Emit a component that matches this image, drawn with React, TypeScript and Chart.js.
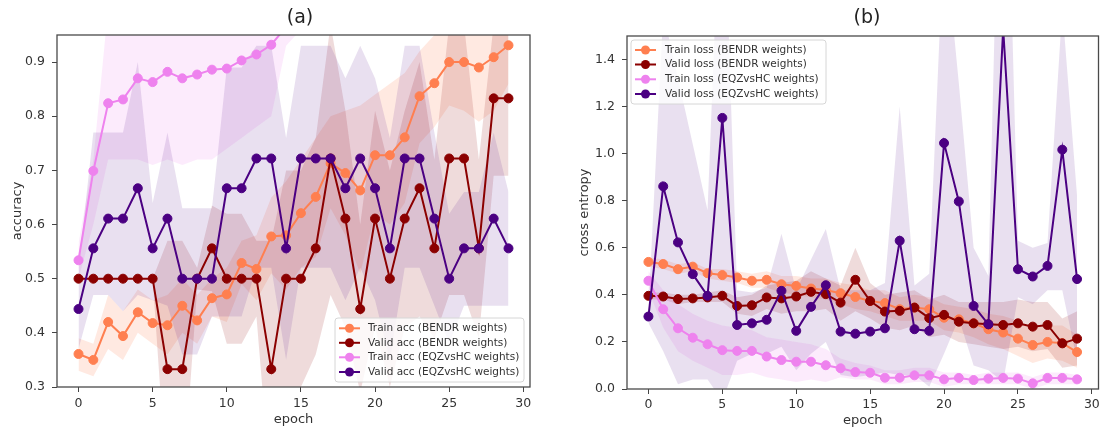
import React, { useEffect, useRef } from "react";
import { Chart, registerables } from "chart.js";

Chart.register(...registerables);

const FONT = "'DejaVu Sans', 'Liberation Sans', sans-serif";

// ---------- data ----------
const epochs = [0, 1, 2, 3, 4, 5, 6, 7, 8, 9, 10, 11, 12, 13, 14, 15, 16, 17, 18, 19, 20, 21, 22, 23, 24, 25, 26, 27, 28, 29];
const xTicks = [0, 5, 10, 15, 20, 25, 30];
const accTicks = [0.3, 0.4, 0.5, 0.6, 0.7, 0.8, 0.9];
const lossTicks = [0.0, 0.2, 0.4, 0.6, 0.8, 1.0, 1.2, 1.4];

const accLabels = [
  "Train acc (BENDR weights)",
  "Valid acc (BENDR weights)",
  "Train acc (EQZvsHC weights)",
  "Valid acc (EQZvsHC weights)",
];
const lossLabels = [
  "Train loss (BENDR weights)",
  "Valid loss (BENDR weights)",
  "Train loss (EQZvsHC weights)",
  "Valid loss (EQZvsHC weights)",
];

// (a) accuracy
const trainAccB = [0.361, 0.35, 0.42, 0.394, 0.438, 0.418, 0.414, 0.45, 0.423, 0.464, 0.471, 0.529, 0.518, 0.578, 0.58, 0.621, 0.651, 0.713, 0.695, 0.663, 0.728, 0.728, 0.761, 0.837, 0.861, 0.9, 0.9, 0.89, 0.909, 0.931];
const trainAccBHi = [0.39, 0.38, 0.47, 0.44, 0.48, 0.46, 0.47, 0.5, 0.47, 0.5, 0.52, 0.57, 0.58, 0.65, 0.68, 0.72, 0.76, 0.8, 0.81, 0.82, 0.84, 0.86, 0.88, 0.92, 0.95, 0.98, 0.99, 0.99, 1.0, 1.0];
const trainAccBLo = [0.33, 0.32, 0.37, 0.35, 0.4, 0.38, 0.36, 0.4, 0.38, 0.43, 0.42, 0.49, 0.46, 0.51, 0.48, 0.52, 0.54, 0.63, 0.58, 0.51, 0.62, 0.6, 0.64, 0.75, 0.78, 0.82, 0.81, 0.79, 0.81, 0.86];

const validAccB = [0.5, 0.5, 0.5, 0.5, 0.5, 0.5, 0.333, 0.333, 0.5, 0.556, 0.5, 0.5, 0.5, 0.333, 0.5, 0.5, 0.556, 0.722, 0.611, 0.444, 0.611, 0.5, 0.611, 0.667, 0.556, 0.722, 0.722, 0.556, 0.833, 0.833];
const validAccBHi = [0.5, 0.5, 0.5, 0.5, 0.5, 0.5, 0.57, 0.57, 0.52, 0.635, 0.62, 0.62, 0.57, 0.57, 0.7, 0.7, 0.76, 0.97, 0.81, 0.6, 0.81, 0.7, 0.81, 0.9, 0.72, 0.97, 0.97, 0.72, 0.97, 0.97];
const validAccBLo = [0.5, 0.5, 0.5, 0.5, 0.5, 0.5, 0.1, 0.1, 0.48, 0.477, 0.38, 0.38, 0.43, 0.1, 0.3, 0.3, 0.36, 0.47, 0.41, 0.29, 0.41, 0.3, 0.41, 0.43, 0.39, 0.47, 0.47, 0.39, 0.69, 0.69];

const trainAccE = [0.534, 0.699, 0.824, 0.831, 0.87, 0.863, 0.882, 0.87, 0.877, 0.886, 0.888, 0.903, 0.914, 0.932, 0.965, 0.975, 0.98, 0.985, 0.985, 0.99, 0.99, 0.99, 0.995, 0.995, 1.0, 1.0, 1.0, 1.0, 1.0, 1.0];
const trainAccEHi = [0.565, 0.72, 1.0, 1.02, 1.02, 1.02, 1.02, 1.02, 1.02, 1.02, 1.02, 1.02, 1.02, 1.02, 1.02, 1.02, 1.02, 1.02, 1.02, 1.02, 1.02, 1.02, 1.02, 1.02, 1.02, 1.02, 1.02, 1.02, 1.02, 1.02];
const trainAccELo = [0.5, 0.6, 0.72, 0.72, 0.72, 0.71, 0.72, 0.71, 0.72, 0.72, 0.74, 0.76, 0.78, 0.8, 0.93, 0.96, 0.96, 0.97, 0.97, 0.97, 0.97, 0.97, 0.98, 0.98, 0.98, 0.98, 0.98, 0.98, 0.98, 0.98];

const validAccE = [0.444, 0.556, 0.611, 0.611, 0.667, 0.556, 0.611, 0.5, 0.5, 0.5, 0.667, 0.667, 0.722, 0.722, 0.556, 0.722, 0.722, 0.722, 0.667, 0.722, 0.667, 0.556, 0.722, 0.722, 0.611, 0.5, 0.556, 0.556, 0.611, 0.556];
const validAccEHi = [0.52, 0.77, 0.77, 0.77, 0.9, 0.64, 0.77, 0.63, 0.63, 0.63, 0.89, 0.89, 0.93, 0.93, 0.76, 0.93, 0.93, 0.93, 0.87, 0.93, 0.87, 0.76, 0.93, 0.93, 0.77, 0.62, 0.66, 0.66, 0.77, 0.66];
const validAccELo = [0.37, 0.47, 0.47, 0.44, 0.47, 0.46, 0.45, 0.36, 0.36, 0.43, 0.43, 0.43, 0.52, 0.52, 0.35, 0.52, 0.52, 0.52, 0.46, 0.52, 0.46, 0.35, 0.52, 0.52, 0.45, 0.38, 0.45, 0.45, 0.45, 0.45];

// (b) cross entropy
const trainLossB = [0.54, 0.531, 0.509, 0.52, 0.492, 0.484, 0.474, 0.46, 0.464, 0.445, 0.438, 0.427, 0.421, 0.407, 0.391, 0.374, 0.365, 0.339, 0.346, 0.339, 0.303, 0.296, 0.279, 0.254, 0.24, 0.214, 0.187, 0.2, 0.195, 0.157];
const trainLossBHi = [0.56, 0.55, 0.53, 0.54, 0.51, 0.51, 0.5, 0.49, 0.5, 0.48, 0.48, 0.47, 0.47, 0.45, 0.44, 0.42, 0.42, 0.39, 0.4, 0.39, 0.36, 0.35, 0.34, 0.32, 0.31, 0.29, 0.26, 0.27, 0.27, 0.23];
const trainLossBLo = [0.52, 0.51, 0.49, 0.5, 0.47, 0.46, 0.45, 0.43, 0.43, 0.41, 0.4, 0.39, 0.38, 0.36, 0.34, 0.33, 0.31, 0.29, 0.29, 0.29, 0.25, 0.24, 0.22, 0.19, 0.17, 0.14, 0.11, 0.13, 0.12, 0.09];

const validLossB = [0.396, 0.393, 0.382, 0.385, 0.389, 0.396, 0.353, 0.356, 0.389, 0.385, 0.393, 0.413, 0.403, 0.367, 0.464, 0.374, 0.329, 0.332, 0.346, 0.301, 0.315, 0.286, 0.279, 0.275, 0.272, 0.279, 0.265, 0.272, 0.194, 0.214];
const validLossBHi = [0.41, 0.41, 0.4, 0.4, 0.41, 0.42, 0.39, 0.4, 0.44, 0.45, 0.46, 0.5, 0.47, 0.44, 0.6, 0.45, 0.4, 0.41, 0.42, 0.38, 0.4, 0.37, 0.37, 0.37, 0.37, 0.38, 0.37, 0.37, 0.3, 0.33];
const validLossBLo = [0.38, 0.38, 0.36, 0.37, 0.37, 0.37, 0.32, 0.31, 0.34, 0.32, 0.33, 0.33, 0.34, 0.29, 0.33, 0.3, 0.26, 0.25, 0.27, 0.22, 0.23, 0.2, 0.19, 0.18, 0.17, 0.18, 0.16, 0.17, 0.09, 0.1];

const trainLossE = [0.46, 0.339, 0.258, 0.218, 0.19, 0.165, 0.162, 0.162, 0.138, 0.123, 0.116, 0.116, 0.101, 0.088, 0.072, 0.069, 0.048, 0.048, 0.058, 0.058, 0.041, 0.047, 0.038, 0.044, 0.047, 0.044, 0.024, 0.047, 0.047, 0.041];
const trainLossEHi = [0.5, 0.42, 0.36, 0.32, 0.29, 0.27, 0.26, 0.25, 0.22, 0.21, 0.2, 0.19, 0.17, 0.13, 0.11, 0.1, 0.08, 0.08, 0.09, 0.09, 0.07, 0.07, 0.06, 0.07, 0.07, 0.07, 0.05, 0.07, 0.07, 0.06];
const trainLossELo = [0.42, 0.26, 0.16, 0.12, 0.09, 0.06, 0.06, 0.07, 0.05, 0.04, 0.03, 0.04, 0.03, 0.05, 0.04, 0.04, 0.02, 0.02, 0.03, 0.03, 0.01, 0.02, 0.02, 0.02, 0.02, 0.02, 0.0, 0.02, 0.02, 0.02];

const validLossE = [0.308, 0.861, 0.623, 0.488, 0.396, 1.152, 0.272, 0.279, 0.294, 0.417, 0.247, 0.349, 0.441, 0.244, 0.235, 0.244, 0.258, 0.63, 0.254, 0.247, 1.045, 0.797, 0.353, 0.275, 1.53, 0.509, 0.478, 0.523, 1.017, 0.467];
const validLossEHi = [0.34, 1.6, 1.32, 1.04, 0.76, 2.35, 0.42, 0.41, 0.43, 0.66, 0.42, 0.55, 0.68, 0.42, 0.42, 0.42, 0.45, 1.2, 0.44, 0.49, 1.95, 1.3, 0.6, 0.48, 3.0, 0.63, 0.6, 0.62, 1.62, 0.82];
const validLossELo = [0.28, 0.16, 0.02, 0.04, 0.04, -0.05, 0.12, 0.15, 0.15, 0.18, 0.08, 0.15, 0.2, 0.06, 0.05, 0.06, 0.07, 0.06, 0.06, 0.01, 0.15, 0.3, 0.1, 0.08, 0.03, 0.39, 0.36, 0.42, 0.42, 0.12];

// ---------- styling ----------
const lineColors = ["#FF7F50", "#8B0000", "#EE82EE", "#4B0082"];
const bandColors = [
  "rgba(255,127,80,0.17)",
  "rgba(139,0,0,0.14)",
  "rgba(238,130,238,0.16)",
  "rgba(75,0,130,0.12)",
];

type Series = { label: string; mean: number[]; hi: number[]; lo: number[] };
type PanelDef = {
  title: string;
  titleX: number;
  yLabel: string;
  yMin: number;
  yMax: number;
  yTicks: number[];
  yWidth: number;
  xHeight: number;
  padRight: number;
  padTop: number;
  yTitlePad: number;
  xTitlePad: number;
  xTickPad: number;
  series: Series[];
  legend: { x: number; y: number; w: number; h: number; rows: number[]; h0: number; h1: number; tx: number };
};

const pts = (vals: number[]) => vals.map((v, i) => ({ x: epochs[i], y: v }));

const panelA: PanelDef = {
  title: "(a)",
  titleX: 300,
  yLabel: "accuracy",
  yMin: 0.3,
  yMax: 0.95,
  yTicks: accTicks,
  yWidth: 57,
  xHeight: 45,
  padRight: 22,
  padTop: 35,
  yTitlePad: 10,
  xTitlePad: 4.7,
  xTickPad: 4,
  series: [
    { label: accLabels[0], mean: trainAccB, hi: trainAccBHi, lo: trainAccBLo },
    { label: accLabels[1], mean: validAccB, hi: validAccBHi, lo: validAccBLo },
    { label: accLabels[2], mean: trainAccE, hi: trainAccEHi, lo: trainAccELo },
    { label: accLabels[3], mean: validAccE, hi: validAccEHi, lo: validAccELo },
  ],
  legend: { x: 335, y: 318, w: 189, h: 64, rows: [328.3, 342.8, 357.3, 372], h0: 339, h1: 360, tx: 368 },
};

const panelB: PanelDef = {
  title: "(b)",
  titleX: 315,
  yLabel: "cross entropy",
  yMin: 0,
  yMax: 1.5,
  yTicks: lossTicks,
  yWidth: 75,
  xHeight: 43,
  padRight: 5,
  padTop: 36,
  yTitlePad: 24.4,
  xTitlePad: 3.2,
  xTickPad: 3,
  series: [
    { label: lossLabels[0], mean: trainLossB, hi: trainLossBHi, lo: trainLossBLo },
    { label: lossLabels[1], mean: validLossB, hi: validLossBHi, lo: validLossBLo },
    { label: lossLabels[2], mean: trainLossE, hi: trainLossEHi, lo: trainLossELo },
    { label: lossLabels[3], mean: validLossE, hi: validLossEHi, lo: validLossELo },
  ],
  legend: { x: 79, y: 40, w: 195, h: 64, rows: [50, 64.5, 79.3, 94], h0: 83, h1: 104, tx: 113 },
};

function decorPlugin(p: PanelDef) {
  return {
    id: "decor",
    afterDraw(chart: any) {
      const { ctx, chartArea: a } = chart;
      ctx.save();
      // spines
      ctx.strokeStyle = "#4a4a4a";
      ctx.lineWidth = 1.3;
      ctx.strokeRect(a.left, a.top, a.right - a.left, a.bottom - a.top);
      // title
      ctx.fillStyle = "#222";
      ctx.font = `19px ${FONT}`;
      ctx.textAlign = "center";
      ctx.textBaseline = "middle";
      ctx.fillText(p.title, p.titleX, 18.5);
      // legend
      const L = p.legend;
      const r = 3;
      ctx.beginPath();
      ctx.moveTo(L.x + r, L.y);
      ctx.lineTo(L.x + L.w - r, L.y);
      ctx.arcTo(L.x + L.w, L.y, L.x + L.w, L.y + r, r);
      ctx.lineTo(L.x + L.w, L.y + L.h - r);
      ctx.arcTo(L.x + L.w, L.y + L.h, L.x + L.w - r, L.y + L.h, r);
      ctx.lineTo(L.x + r, L.y + L.h);
      ctx.arcTo(L.x, L.y + L.h, L.x, L.y + L.h - r, r);
      ctx.lineTo(L.x, L.y + r);
      ctx.arcTo(L.x, L.y, L.x + r, L.y, r);
      ctx.closePath();
      ctx.fillStyle = "rgba(255,255,255,0.8)";
      ctx.fill();
      ctx.strokeStyle = "#d6d6d6";
      ctx.lineWidth = 1;
      ctx.stroke();
      p.series.forEach((s, k) => {
        const y = L.rows[k];
        ctx.strokeStyle = lineColors[k];
        ctx.lineWidth = 2;
        ctx.beginPath();
        ctx.moveTo(L.h0, y);
        ctx.lineTo(L.h1, y);
        ctx.stroke();
        ctx.fillStyle = lineColors[k];
        ctx.beginPath();
        ctx.arc((L.h0 + L.h1) / 2, y, 4.5, 0, Math.PI * 2);
        ctx.fill();
        ctx.fillStyle = "#333";
        ctx.font = `10.5px ${FONT}`;
        ctx.textAlign = "left";
        ctx.textBaseline = "middle";
        ctx.fillText(s.label, L.tx, y);
      });
      ctx.restore();
    },
  };
}

function makeConfig(p: PanelDef): any {
  const datasets: any[] = [];
  p.series.forEach((s, k) => {
    datasets.push({
      label: s.label,
      data: pts(s.mean),
      borderColor: lineColors[k],
      backgroundColor: lineColors[k],
      borderWidth: 2,
      pointRadius: 4.5,
      pointHoverRadius: 4.5,
      pointBorderWidth: 1,
      pointBorderColor: lineColors[k],
      pointBackgroundColor: lineColors[k],
      fill: false,
      tension: 0,
      order: 4 - k,
      clip: 0,
    });
  });
  p.series.forEach((s, k) => {
    datasets.push({
      label: s.label + " upper",
      data: pts(s.hi),
      borderColor: "rgba(0,0,0,0)",
      borderWidth: 0,
      pointRadius: 0,
      pointHoverRadius: 0,
      backgroundColor: bandColors[k],
      fill: "+1",
      tension: 0,
      order: 13 - k,
      clip: 0,
    });
    datasets.push({
      label: s.label + " lower",
      data: pts(s.lo),
      borderColor: "rgba(0,0,0,0)",
      borderWidth: 0,
      pointRadius: 0,
      pointHoverRadius: 0,
      backgroundColor: "rgba(0,0,0,0)",
      fill: false,
      tension: 0,
      order: 13 - k,
      clip: 0,
    });
  });

  const tickFont = { family: FONT, size: 12.5 };
  const titleFont = { family: FONT, size: 13 };

  return {
    type: "line",
    data: { datasets },
    options: {
      animation: false,
      responsive: false,
      devicePixelRatio: 1,
      events: [],
      layout: { padding: { left: 0, right: p.padRight, top: p.padTop, bottom: 0 } },
      plugins: {
        legend: { display: false },
        tooltip: { enabled: false },
        title: { display: false },
      },
      scales: {
        x: {
          type: "linear",
          min: -1.45,
          max: 30.45,
          afterBuildTicks: (s: any) => {
            s.ticks = xTicks.map((v) => ({ value: v }));
          },
          afterFit: (s: any) => {
            s.height = p.xHeight;
          },
          ticks: {
            font: tickFont,
            color: "#333",
            padding: p.xTickPad,
            autoSkip: false,
            maxRotation: 0,
            callback: (v: any) => String(v),
          },
          grid: {
            display: true,
            drawOnChartArea: false,
            drawTicks: true,
            tickLength: 5,
            tickColor: "#444",
            tickWidth: 1,
            color: "#444",
          },
          border: { display: false },
          title: {
            display: true,
            text: "epoch",
            font: titleFont,
            color: "#333",
            padding: { top: 0, bottom: p.xTitlePad },
          },
        },
        y: {
          type: "linear",
          min: p.yMin,
          max: p.yMax,
          afterBuildTicks: (s: any) => {
            s.ticks = p.yTicks.map((v) => ({ value: v }));
          },
          afterFit: (s: any) => {
            s.width = p.yWidth;
          },
          ticks: {
            font: tickFont,
            color: "#333",
            padding: 7,
            autoSkip: false,
            callback: (v: any) => Number(v).toFixed(1),
          },
          grid: {
            display: true,
            drawOnChartArea: false,
            drawTicks: true,
            tickLength: 5,
            tickColor: "#444",
            tickWidth: 1,
            color: "#444",
          },
          border: { display: false },
          title: {
            display: true,
            text: p.yLabel,
            font: titleFont,
            color: "#333",
            padding: { top: p.yTitlePad, bottom: 0 },
          },
        },
      },
    },
    plugins: [decorPlugin(p)],
  };
}

function Panel({ def, left }: { def: PanelDef; left: number }) {
  const ref = useRef<HTMLCanvasElement | null>(null);
  useEffect(() => {
    if (!ref.current) return;
    const chart = new Chart(ref.current, makeConfig(def));
    return () => chart.destroy();
  }, [def]);
  return (
    <canvas
      ref={ref}
      width={552}
      height={432}
      style={{ position: "absolute", left, top: 0, width: 552, height: 432 }}
    />
  );
}

export default function App() {
  return (
    <div
      style={{
        position: "absolute",
        left: 0,
        top: 0,
        width: 1104,
        height: 432,
        background: "#ffffff",
        overflow: "hidden",
      }}
    >
      <Panel def={panelA} left={0} />
      <Panel def={panelB} left={552} />
    </div>
  );
}
